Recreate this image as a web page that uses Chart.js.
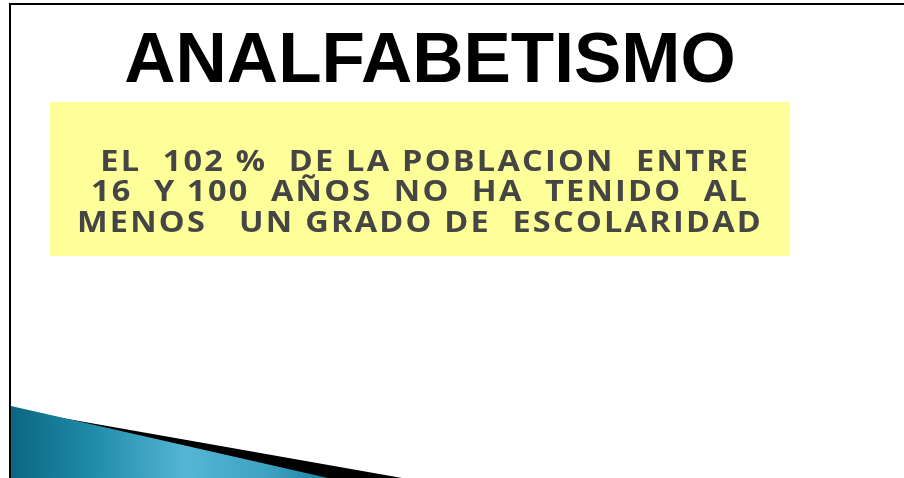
<!DOCTYPE html>
<html>
<head>
<meta charset="utf-8">
<script src="https://cdn.jsdelivr.net/npm/chart.js@4/dist/chart.umd.min.js"></script>
<style>
  html, body { margin: 0; padding: 0; background: #fff; overflow: hidden; }
  #frame { position: absolute; left: 9px; top: 3px; width: 920px; height: 500px;
           border-top: 2px solid #000; border-left: 2px solid #000; }
  #slide { position: absolute; left: 0; top: 0; }
</style>
</head>
<body>
<div id="frame"></div>
<canvas id="slide" width="904" height="478"></canvas>
<script>
// slide texts
const titleText = "ANALFABETISMO";
const noteLines = [
  " EL  102 %  DE LA POBLACION  ENTRE",
  "16  Y 100  AÑOS  NO  HA  TENIDO  AL",
  "MENOS   UN GRADO DE  ESCOLARIDAD"
];

// shapes in slide units (x right, y down)
const noteBoxX = [50, 790, 790, 50, 50];
const noteBoxY = [102, 102, 256, 256, 102];
const swooshX = [11, 328, 11, 11];
const swooshY = [406, 478, 478, 406];
const shadowX = [11, 402, 11, 11];
const shadowY = [409, 478, 478, 409];

function pts(xs, ys) {
  return xs.map((x, i) => ({ x, y: ys[i] }));
}

function swooshGradient(context) {
  const chart = context.chart;
  const area = chart.chartArea;
  if (!area) return "#2a90b0";
  const sx = chart.scales.x;
  const g = chart.ctx.createLinearGradient(sx.getPixelForValue(11), 0, sx.getPixelForValue(330), 0);
  g.addColorStop(0, "#0c6781");
  g.addColorStop(0.25, "#1f8aa8");
  g.addColorStop(0.55, "#55b6d5");
  g.addColorStop(0.8, "#3ea2c3");
  g.addColorStop(1, "#1a82a2");
  return g;
}

const slideText = {
  id: "slideText",
  afterDatasetsDraw(chart) {
    const ctx = chart.ctx;
    const sx = chart.scales.x;
    const sy = chart.scales.y;
    ctx.save();
    ctx.textAlign = "center";
    ctx.textBaseline = "alphabetic";
    ctx.fillStyle = "#000";
    ctx.font = "bold 71px 'Liberation Sans', Arial, sans-serif";
    ctx.fillText(titleText, sx.getPixelForValue(430), sy.getPixelForValue(82));

    ctx.fillStyle = "#454545";
    ctx.font = "bold 29px 'Open Sans', sans-serif";
    ctx.letterSpacing = "2px";
    const baselines = [171, 201, 232];
    noteLines.forEach((line, i) => {
      ctx.save();
      ctx.translate(sx.getPixelForValue(420), sy.getPixelForValue(baselines[i]));
      ctx.scale(1.12, 1);
      ctx.fillText(line, 0, 0);
      ctx.restore();
    });
    ctx.restore();
  }
};

new Chart(document.getElementById("slide"), {
  type: "scatter",
  data: {
    datasets: [
      {
        label: "box",
        data: pts(noteBoxX, noteBoxY),
        showLine: true,
        borderWidth: 0,
        pointRadius: 0,
        backgroundColor: "#ffff99",
        fill: "shape",
        order: 3
      },
      {
        label: "shadow",
        data: pts(shadowX, shadowY),
        showLine: true,
        borderWidth: 0,
        pointRadius: 0,
        backgroundColor: "#000",
        fill: "shape",
        order: 2
      },
      {
        label: "swoosh",
        data: pts(swooshX, swooshY),
        showLine: true,
        borderWidth: 0,
        pointRadius: 0,
        backgroundColor: swooshGradient,
        fill: "shape",
        order: 1
      }
    ]
  },
  options: {
    responsive: false,
    animation: false,
    layout: { padding: 0 },
    plugins: { legend: { display: false }, tooltip: { enabled: false } },
    scales: {
      x: { type: "linear", min: 0, max: 904, display: false },
      y: { type: "linear", min: 0, max: 478, reverse: true, display: false }
    }
  },
  plugins: [slideText]
});
</script>
</body>
</html>
